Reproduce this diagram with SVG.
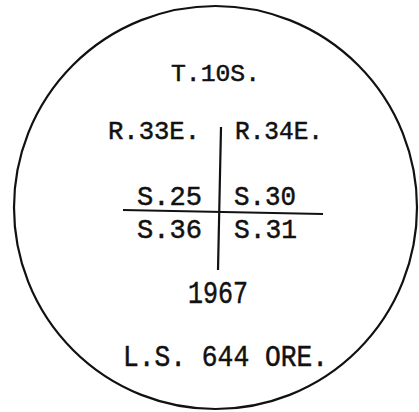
<svg xmlns="http://www.w3.org/2000/svg" width="419" height="412" viewBox="0 0 419 412">
<style>
text{font-family:"Liberation Mono","Courier New",monospace;fill:#111;stroke:#111;stroke-width:0.5;}
.s1{font-size:24px;}
.s1b{font-size:25px;}
.s2{font-size:28px;}
.s3{font-size:32px;}
.s4{font-size:30px;}
.ln{stroke:#111;stroke-width:2.2;fill:none;}
</style>
<rect width="419" height="412" fill="#fff"/>
<circle class="ln" cx="215.5" cy="207.5" r="201.5"/>
<line class="ln" x1="221" y1="127" x2="218" y2="270"/>
<line class="ln" x1="123" y1="210" x2="323" y2="214"/>
<text class="s1" x="171" y="81" textLength="89" lengthAdjust="spacingAndGlyphs">T.10S.</text>
<text class="s1b" x="108" y="139" textLength="92" lengthAdjust="spacingAndGlyphs">R.33E.</text>
<text class="s1b" x="235" y="139" textLength="88" lengthAdjust="spacingAndGlyphs">R.34E.</text>
<text class="s2" x="137" y="205" textLength="65" lengthAdjust="spacingAndGlyphs">S.25</text>
<text class="s2" x="234" y="205" textLength="62" lengthAdjust="spacingAndGlyphs">S.30</text>
<text class="s2" x="137" y="238" textLength="65" lengthAdjust="spacingAndGlyphs">S.36</text>
<text class="s2" x="234" y="238" textLength="63" lengthAdjust="spacingAndGlyphs">S.31</text>
<text class="s3" x="188" y="303" textLength="60" lengthAdjust="spacingAndGlyphs">1967</text>
<text class="s4" x="123" y="366" textLength="205" lengthAdjust="spacingAndGlyphs">L.S. 644 ORE.</text>
</svg>
